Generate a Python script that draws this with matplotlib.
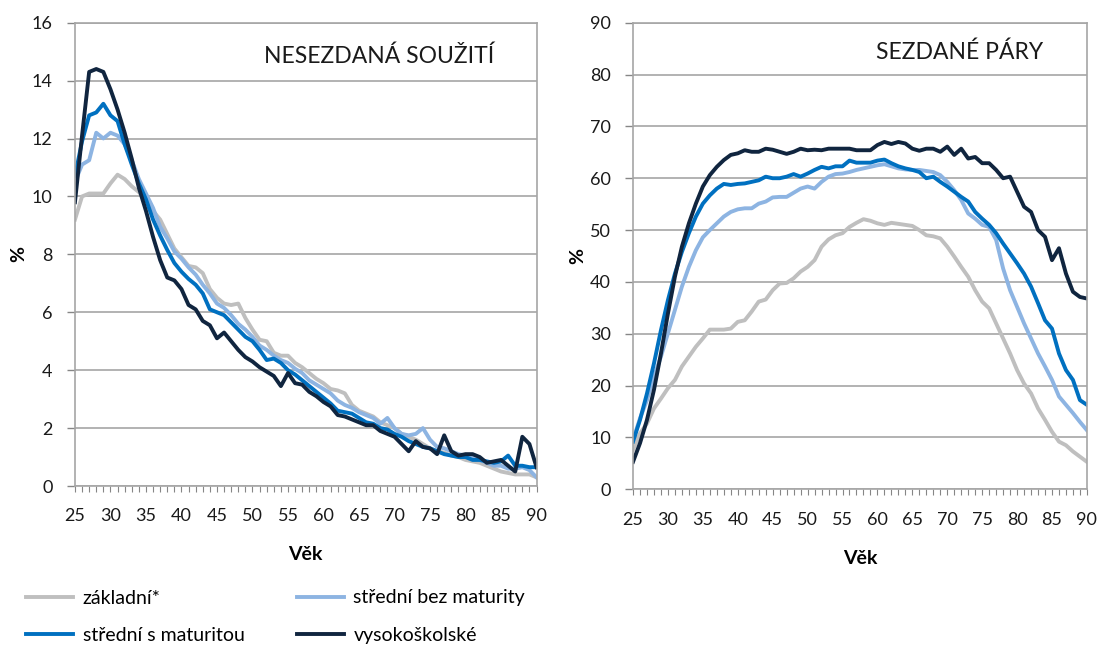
import matplotlib.pyplot as plt
import numpy as np

plt.rcParams['font.family'] = ['Lato', 'DejaVu Sans']

ages = list(range(25, 91))

# nesezdaná soužití (%)
ns_zakladni = [9.2, 10.0, 10.1, 10.1, 10.1, 10.45, 10.75, 10.6, 10.35, 10.15,
               9.9, 9.5, 9.2, 8.7, 8.2, 7.9, 7.6, 7.55, 7.35, 6.8,
               6.5, 6.3, 6.25, 6.3, 5.8, 5.4, 5.05, 5.0, 4.6, 4.5,
               4.5, 4.25, 4.1, 3.9, 3.7, 3.55, 3.35, 3.3, 3.2, 2.8,
               2.6, 2.5, 2.4, 2.2, 2.1, 2.0, 1.8, 1.7, 1.6, 1.45,
               1.3, 1.2, 1.15, 1.05, 1.0, 0.9, 0.85, 0.8, 0.7, 0.6,
               0.5, 0.45, 0.4, 0.4, 0.4, 0.3]
ns_bez_mat = [10.5, 11.1, 11.25, 12.2, 12.0, 12.2, 12.1, 11.8, 11.25, 10.6,
              10.1, 9.6, 8.95, 8.55, 8.1, 7.85, 7.55, 7.3, 6.95, 6.65,
              6.3, 6.15, 5.9, 5.6, 5.4, 5.15, 4.85, 4.7, 4.5, 4.35,
              4.25, 4.05, 3.9, 3.65, 3.5, 3.35, 3.2, 2.95, 2.8, 2.7,
              2.55, 2.45, 2.35, 2.15, 2.35, 2.0, 1.8, 1.75, 1.8, 2.0,
              1.6, 1.35, 1.3, 1.2, 1.1, 1.05, 1.0, 0.9, 0.8, 0.7,
              0.7, 0.6, 0.6, 0.65, 0.55, 0.3]
ns_s_mat = [10.7, 11.9, 12.8, 12.9, 13.2, 12.8, 12.6, 11.8, 11.1, 10.45,
            9.9, 9.2, 8.65, 8.15, 7.7, 7.4, 7.15, 6.95, 6.65, 6.1,
            6.0, 5.9, 5.65, 5.4, 5.15, 5.0, 4.7, 4.35, 4.4, 4.25,
            4.0, 3.85, 3.65, 3.45, 3.25, 3.05, 2.85, 2.6, 2.55, 2.5,
            2.35, 2.2, 2.15, 2.0, 1.95, 1.8, 1.7, 1.55, 1.45, 1.35,
            1.3, 1.2, 1.1, 1.05, 1.0, 1.0, 0.9, 0.9, 0.85, 0.8,
            0.85, 1.05, 0.7, 0.7, 0.65, 0.65]
ns_vs = [9.8, 12.1, 14.3, 14.4, 14.3, 13.7, 13.0, 12.2, 11.3, 10.3,
         9.5, 8.6, 7.8, 7.2, 7.1, 6.8, 6.25, 6.1, 5.7, 5.55,
         5.1, 5.3, 5.0, 4.7, 4.45, 4.3, 4.1, 3.95, 3.8, 3.45,
         3.9, 3.55, 3.5, 3.25, 3.1, 2.9, 2.75, 2.45, 2.4, 2.3,
         2.2, 2.1, 2.1, 1.9, 1.8, 1.7, 1.45, 1.2, 1.55, 1.35,
         1.3, 1.1, 1.75, 1.2, 1.05, 1.1, 1.1, 1.0, 0.8, 0.85,
         0.9, 0.7, 0.5, 1.7, 1.45, 0.65]

# sezdané páry (%)
sp_zakladni = [7.6, 10.8, 12.7, 15.6, 17.5, 19.5, 21.1, 23.7, 25.6, 27.5,
               29.1, 30.8, 30.8, 30.8, 31.0, 32.3, 32.6, 34.3, 36.2, 36.6,
               38.4, 39.7, 39.8, 40.7, 42.0, 42.9, 44.2, 46.8, 48.2, 49.0,
               49.4, 50.6, 51.4, 52.1, 51.8, 51.3, 51.0, 51.4, 51.2, 51.0,
               50.8, 50.0, 49.0, 48.8, 48.4, 46.8, 44.9, 42.9, 41.0, 38.4,
               36.2, 34.9, 32.0, 29.1, 26.2, 23.0, 20.4, 18.5, 15.6, 13.4,
               11.1, 9.2, 8.5, 7.3, 6.3, 5.3]
sp_bez_mat = [9.5, 13.7, 17.2, 21.7, 25.6, 30.1, 34.6, 39.1, 42.9, 46.1,
              48.6, 50.0, 51.3, 52.6, 53.5, 54.0, 54.2, 54.2, 55.1, 55.5,
              56.3, 56.4, 56.4, 57.2, 58.0, 58.4, 58.0, 59.3, 60.3, 60.8,
              60.9, 61.2, 61.6, 61.9, 62.2, 62.5, 62.7, 62.3, 61.9, 61.7,
              61.6, 61.6, 61.4, 61.2, 60.6, 59.3, 57.7, 55.8, 53.2, 52.2,
              51.0, 50.6, 48.1, 42.6, 38.4, 35.2, 32.0, 29.1, 26.2, 23.7,
              21.1, 17.9, 16.3, 14.7, 13.0, 11.4]
sp_s_mat = [9.2, 13.4, 18.5, 24.3, 30.7, 36.5, 41.6, 45.8, 49.4, 52.6,
            55.1, 56.7, 58.0, 58.9, 58.7, 58.9, 59.0, 59.3, 59.6, 60.3,
            60.0, 60.0, 60.3, 60.8, 60.3, 60.9, 61.6, 62.2, 61.9, 62.3,
            62.3, 63.4, 63.0, 63.0, 63.0, 63.4, 63.6, 62.9, 62.3, 61.9,
            61.6, 61.2, 60.0, 60.3, 59.3, 58.4, 57.4, 56.4, 55.5, 53.5,
            52.2, 51.0, 49.4, 47.4, 45.5, 43.6, 41.6, 39.1, 35.9, 32.6,
            31.0, 26.2, 23.0, 21.1, 17.2, 16.3]
sp_vs = [5.3, 8.9, 13.4, 19.2, 26.2, 33.9, 41.0, 46.8, 51.3, 55.1,
         58.4, 60.6, 62.2, 63.5, 64.5, 64.8, 65.4, 65.1, 65.1, 65.7,
         65.5, 65.1, 64.7, 65.1, 65.7, 65.4, 65.5, 65.4, 65.7, 65.7,
         65.7, 65.7, 65.4, 65.4, 65.4, 66.4, 67.0, 66.6, 67.0, 66.7,
         65.7, 65.3, 65.7, 65.7, 65.1, 66.1, 64.5, 65.7, 63.8, 64.1,
         62.9, 62.9, 61.6, 60.0, 60.3, 57.4, 54.5, 53.5, 50.0, 48.7,
         44.2, 46.5, 41.6, 38.1, 37.1, 36.8]

labels = ['základní*', 'střední bez maturity', 'střední s maturitou', 'vysokoškolské']
colors = ['#bfbfbf', '#8db4e2', '#0070c0', '#10253f']

fig = plt.figure(figsize=(10.99, 6.5), dpi=100)
ax1 = fig.add_axes([0.0682, 0.2523, 0.420, 0.7128])
ax2 = fig.add_axes([0.576, 0.2472, 0.413, 0.7179])

grid_c = '#a6a6a6'


def style(ax, ymax, ystep, title, tx, ty):
    ax.set_xlim(25, 90)
    ax.set_ylim(0, ymax)
    ax.set_xticks(range(25, 91, 5))
    ax.set_xticks(ages, minor=True)
    ax.set_yticks(np.arange(0, ymax + 0.1, ystep))
    ax.yaxis.grid(True, color=grid_c, linewidth=1.2)
    ax.set_axisbelow(True)
    for s in ax.spines.values():
        s.set_color(grid_c)
        s.set_linewidth(1.2)
    ax.tick_params(axis='both', which='both', color='#868686', length=4,
                   width=0.8, labelsize=13, labelcolor='#1a1a1a')
    ax.tick_params(axis='x', which='major', pad=12)
    ax.tick_params(axis='y', length=6, width=1, pad=10)
    ax.set_xlabel('Věk', fontsize=14, fontweight='bold', labelpad=16)
    ax.set_ylabel('%', fontsize=14, fontweight='bold', labelpad=3)
    ax.text(tx, ty, title, transform=ax.transAxes, fontsize=16.5,
            ha='center', va='center', color='#1a1a1a')


ns = [ns_zakladni, ns_bez_mat, ns_s_mat, ns_vs]
sp = [sp_zakladni, sp_bez_mat, sp_s_mat, sp_vs]
lines = []
for vals, lab, c in zip(ns, labels, colors):
    ln, = ax1.plot(ages, vals, color=c, linewidth=2.8, label=lab)
    lines.append(ln)
for vals, c in zip(sp, colors):
    ax2.plot(ages, vals, color=c, linewidth=2.8)

style(ax1, 16, 2, 'NESEZDANÁ SOUŽITÍ', 0.66, 0.927)
style(ax2, 90, 10, 'SEZDANÉ PÁRY', 0.72, 0.936)

order = [0, 2, 1, 3]
fig.legend([lines[i] for i in order], [labels[i] for i in order],
           loc='upper left', bbox_to_anchor=(0.008, 0.12),
           bbox_transform=fig.transFigure, ncol=2, frameon=False,
           fontsize=14, handlelength=2.4, handletextpad=0.5,
           columnspacing=2.7, labelspacing=1.05)

fig.savefig('out.png', dpi=100)
